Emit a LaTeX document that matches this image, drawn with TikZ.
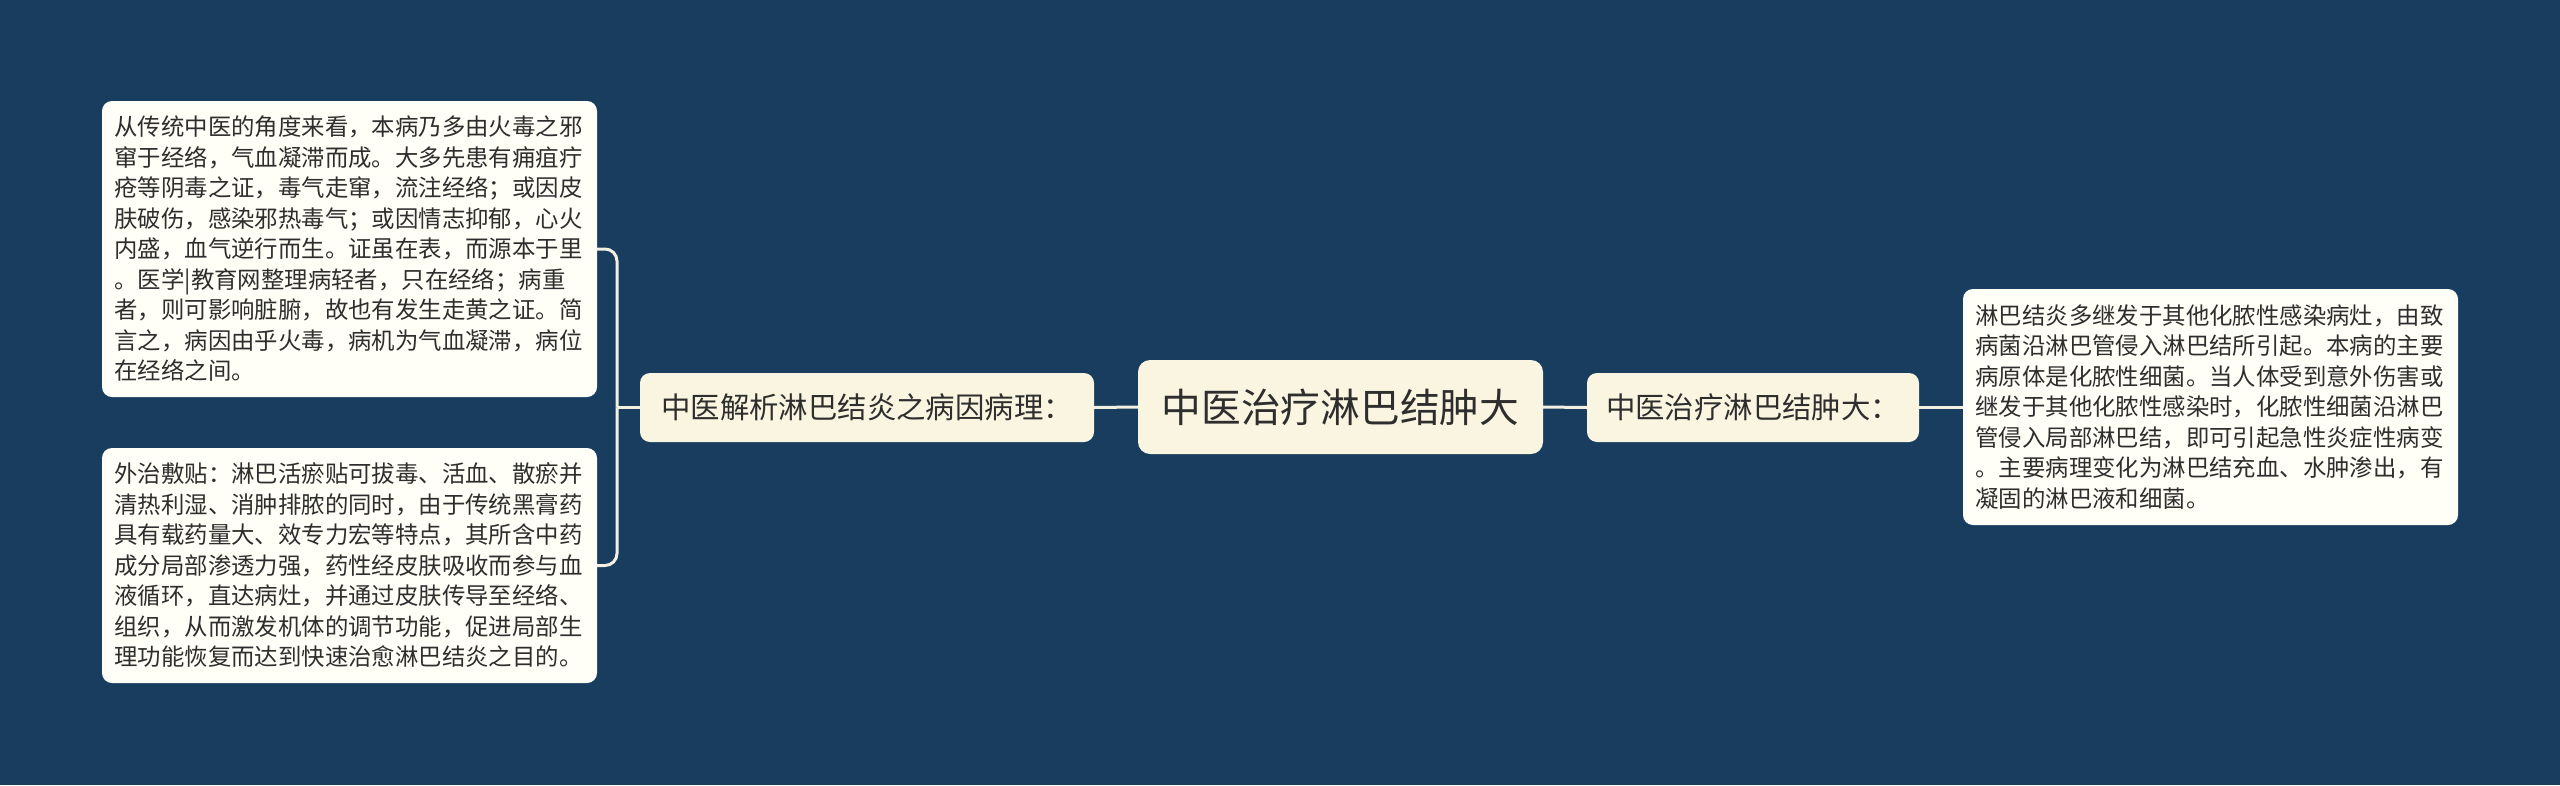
\documentclass[tikz,border=0pt]{standalone}
\usepackage{fontspec}
\setmainfont{Noto Sans CJK SC}
\definecolor{bgc}{HTML}{183D5E}
\definecolor{nodefill}{HTML}{FAF5E0}
\definecolor{leaffill}{HTML}{FFFEF7}
\definecolor{linec}{HTML}{F3F0E2}
\definecolor{txt}{HTML}{2E2E2E}
\tikzset{
  leafbox/.style={draw=none, fill=leaffill, rounded corners=10pt, text=txt,
    text width=470pt, align=left, inner xsep=12.5pt, inner ysep=0pt,
    font=\fontsize{23.4pt}{30.5pt}\selectfont},
  branchbox/.style={draw=none, fill=nodefill, rounded corners=10pt, text=txt,
    minimum height=69pt, inner sep=0pt, font=\fontsize{29.4pt}{34pt}\selectfont},
  rootbox/.style={draw=none, fill=nodefill, rounded corners=12pt, text=txt,
    minimum width=405pt, minimum height=94pt, inner sep=0pt,
    font=\fontsize{39.7pt}{44pt}\selectfont},
  conn/.style={draw=linec, line width=3pt}
}
\begin{document}
\begin{tikzpicture}[x=1pt,y=-1pt]
\fill[bgc] (0,0) rectangle (2560,785);
\useasboundingbox (0,0) rectangle (2560,785);

\node[rootbox] (root) at (1340.5,407) {中医治疗淋巴结肿大};
\node[branchbox, minimum width=454pt] (lb) at (867,407.5) {中医解析淋巴结炎之病因病理：};
\node[branchbox, minimum width=332pt] (rb) at (1753,407.5) {中医治疗淋巴结肿大：};

\node[leafbox, minimum height=296pt] (tl) at (349.5,249) {从传统中医的角度来看，本病乃多由火毒之邪\\窜于经络，气血凝滞而成。大多先患有痈疽疔\\疮等阴毒之证，毒气走窜，流注经络；或因皮\\肤破伤，感染邪热毒气；或因情志抑郁，心火\\内盛，血气逆行而生。证虽在表，而源本于里\\。医学|教育网整理病轻者，只在经络；病重\\者，则可影响脏腑，故也有发生走黄之证。简\\言之，病因由乎火毒，病机为气血凝滞，病位\\在经络之间。};

\node[leafbox, minimum height=235pt] (bl) at (349.5,565.5) {外治敷贴：淋巴活瘀贴可拔毒、活血、散瘀并\\清热利湿、消肿排脓的同时，由于传统黑膏药\\具有载药量大、效专力宏等特点，其所含中药\\成分局部渗透力强，药性经皮肤吸收而参与血\\液循环，直达病灶，并通过皮肤传导至经络、\\组织，从而激发机体的调节功能，促进局部生\\理功能恢复而达到快速治愈淋巴结炎之目的。};

\node[leafbox, minimum height=236pt] (rl) at (2210.5,407) {淋巴结炎多继发于其他化脓性感染病灶，由致\\病菌沿淋巴管侵入淋巴结所引起。本病的主要\\病原体是化脓性细菌。当人体受到意外伤害或\\继发于其他化脓性感染时，化脓性细菌沿淋巴\\管侵入局部淋巴结，即可引起急性炎症性病变\\。主要病理变化为淋巴结充血、水肿渗出，有\\凝固的淋巴液和细菌。};

\coordinate (bx) at (617,407.5);
\draw[conn] (root.west) -- (lb.east);
\draw[conn] (root.east) -- (rb.west);
\draw[conn] (rb.east) -- (rl.west |- rb.east);
\draw[conn] (lb.west) -- (bx);
\draw[conn, rounded corners=12pt] (bx) |- (tl.east);
\draw[conn, rounded corners=12pt] (bx) |- (bl.east);
\end{tikzpicture}
\end{document}
